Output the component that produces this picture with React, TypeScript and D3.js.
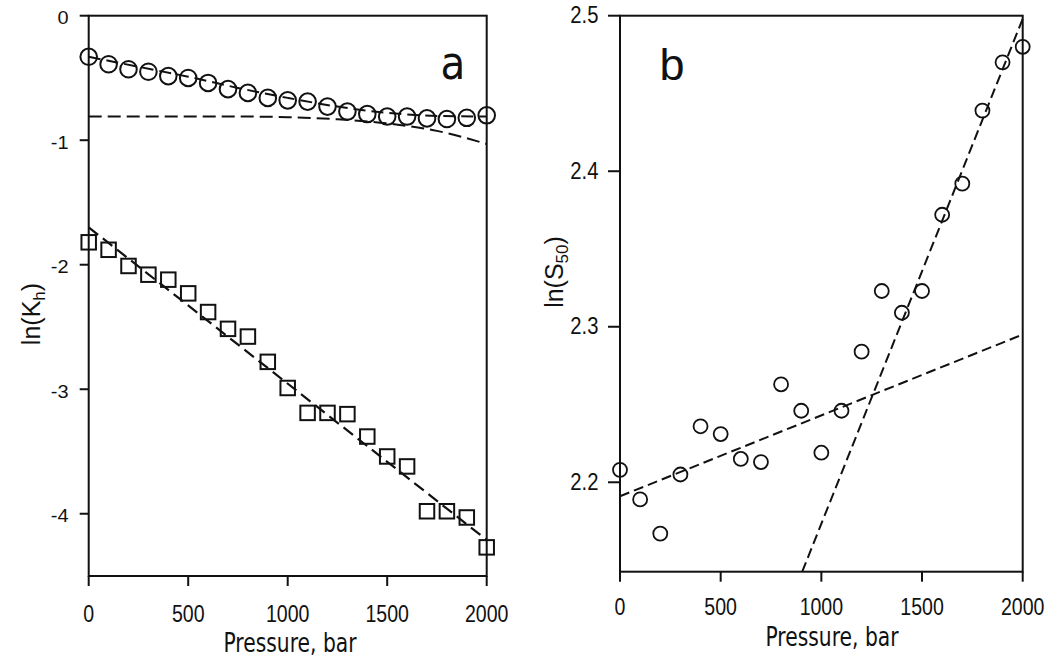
import React from "react";
import * as d3 from "d3";

const pressure = [0, 100, 200, 300, 400, 500, 600, 700, 800, 900, 1000, 1100, 1200, 1300, 1400, 1500, 1600, 1700, 1800, 1900, 2000];
const lnKhCircles = [-0.33, -0.39, -0.43, -0.45, -0.485, -0.5, -0.54, -0.59, -0.62, -0.66, -0.68, -0.69, -0.73, -0.77, -0.79, -0.81, -0.81, -0.825, -0.83, -0.82, -0.8];
const lnKhSquares = [-1.82, -1.88, -2.01, -2.08, -2.12, -2.23, -2.38, -2.515, -2.577, -2.78, -2.99, -3.19, -3.19, -3.2, -3.38, -3.54, -3.62, -3.98, -3.98, -4.03, -4.27];
const fitX = [0, 250, 500, 750, 1000, 1250, 1500, 1750, 2000];
const fitCircles = [-0.33, -0.41, -0.49, -0.58, -0.66, -0.73, -0.78, -0.805, -0.81];
const fitFlat = [-0.81, -0.81, -0.81, -0.81, -0.815, -0.832, -0.865, -0.925, -1.03];
const fitSquaresX = [0, 2000];
const fitSquares = [-1.7, -4.21];

const lnS50 = [2.208, 2.189, 2.167, 2.205, 2.236, 2.231, 2.215, 2.213, 2.263, 2.246, 2.219, 2.246, 2.284, 2.323, 2.309, 2.323, 2.372, 2.392, 2.439, 2.47, 2.48];
const lowLineX = [0, 2000];
const lowLine = [2.191, 2.295];
const highLineX = [905, 2000];
const highLine = [2.1425, 2.498];

const xTicks = [0, 500, 1000, 1500, 2000];
const yTicksA = [0, -1, -2, -3, -4];
const yTicksB = [2.2, 2.3, 2.4, 2.5];

const ARIAL = "'Liberation Sans', Arial, sans-serif";
const VERD = "'DejaVu Sans', Verdana, sans-serif";

function T({ x, y, sx = 1, size, family = ARIAL, anchor = "middle", children, rotate = 0 }: any) {
  return (
    <text
      transform={`translate(${x},${y}) rotate(${rotate}) scale(${sx},1)`}
      fontSize={size}
      fontFamily={family}
      textAnchor={anchor}
      fill="#111"
    >
      {children}
    </text>
  );
}

export default function App() {
  // Panel a
  const xa = d3.scaleLinear().domain([0, 2000]).range([88.7, 486.7]);
  const ya = d3.scaleLinear().domain([-4.5, 0]).range([576, 15.7]);
  // Panel b
  const xb = d3.scaleLinear().domain([0, 2000]).range([620, 1022.7]);
  const yb = d3.scaleLinear().domain([2.1425, 2.5]).range([571.7, 15.7]);

  const lineA = d3.line<number>().curve(d3.curveMonotoneX);
  const pathCirc = lineA(fitX.map((x, i) => [xa(x), ya(fitCircles[i])] as any));
  const pathFlat = lineA(fitX.map((x, i) => [xa(x), ya(fitFlat[i])] as any));
  const pathSq = d3.line()(fitSquaresX.map((x, i) => [xa(x), ya(fitSquares[i])]));
  const pathLow = d3.line()(lowLineX.map((x, i) => [xb(x), yb(lowLine[i])]));
  const pathHigh = d3.line()(highLineX.map((x, i) => [xb(x), yb(highLine[i])]));

  const sq = 14.5;
  return (
    <svg width={1050} height={662} style={{ position: "absolute", left: 0, top: 0, background: "#fff" }}>
      {/* Panel a frame */}
      <rect x={xa(0)} y={ya(0)} width={xa(2000) - xa(0)} height={ya(-4.5) - ya(0)} fill="none" stroke="#111" strokeWidth={2} />
      {xTicks.map((t) => (
        <g key={"xa" + t}>
          <line x1={xa(t)} x2={xa(t)} y1={ya(-4.5)} y2={ya(-4.5) + 10} stroke="#111" strokeWidth={2} />
          <T x={xa(t)} y={621.5} size={23} sx={0.85}>{t}</T>
        </g>
      ))}
      {yTicksA.map((t) => (
        <g key={"ya" + t}>
          <line x1={xa(0) - 9} x2={xa(0)} y1={ya(t)} y2={ya(t)} stroke="#111" strokeWidth={2} />
          <T x={68.5} y={ya(t) + 8.5} size={19} sx={1.05} anchor="end">{t}</T>
        </g>
      ))}
      <T x={290} y={652} size={26} sx={0.78} family={VERD}>Pressure, bar</T>
      <text transform="translate(40,314) rotate(-90)" fontSize={25} fontFamily={ARIAL} textAnchor="middle" fill="#111">
        ln(K<tspan fontSize={17} dy={5}>h</tspan><tspan dy={-5}>)</tspan>
      </text>
      <T x={453} y={79} size={46} sx={0.88} family={VERD}>a</T>

      <path d={pathCirc || ""} fill="none" stroke="#111" strokeWidth={2} strokeDasharray="12,6" />
      <path d={pathFlat || ""} fill="none" stroke="#111" strokeWidth={2} strokeDasharray="13,6" />
      <path d={pathSq || ""} fill="none" stroke="#111" strokeWidth={2.2} strokeDasharray="12,6" />
      {pressure.map((p, i) => (
        <circle key={"c" + p} cx={xa(p)} cy={ya(lnKhCircles[i])} r={8.3} fill="none" stroke="#111" strokeWidth={2} />
      ))}
      {pressure.map((p, i) => (
        <rect key={"s" + p} x={xa(p) - sq / 2} y={ya(lnKhSquares[i]) - sq / 2} width={sq} height={sq} fill="none" stroke="#111" strokeWidth={2} />
      ))}

      {/* Panel b */}
      <rect x={xb(0)} y={yb(2.5)} width={xb(2000) - xb(0)} height={yb(2.1425) - yb(2.5)} fill="none" stroke="#111" strokeWidth={2} />
      {xTicks.map((t) => (
        <g key={"xb" + t}>
          <line x1={xb(t)} x2={xb(t)} y1={yb(2.1425)} y2={yb(2.1425) + 10} stroke="#111" strokeWidth={2} />
          <T x={xb(t)} y={615} size={23} sx={0.85}>{t}</T>
        </g>
      ))}
      {yTicksB.map((t) => (
        <g key={"yb" + t}>
          <line x1={xb(0) - 12} x2={xb(0)} y1={yb(t)} y2={yb(t)} stroke="#111" strokeWidth={2} />
          <T x={598.5} y={yb(t) + 7.5} size={23} sx={0.88} anchor="end">{t.toFixed(1)}</T>
        </g>
      ))}
      <T x={832} y={646} size={26} sx={0.78} family={VERD}>Pressure, bar</T>
      <text transform="translate(563,272) rotate(-90)" fontSize={25} fontFamily={ARIAL} textAnchor="middle" fill="#111">
        ln(S<tspan fontSize={17} dy={5}>50</tspan><tspan dy={-5}>)</tspan>
      </text>
      <T x={672} y={80} size={45} family={ARIAL}>b</T>

      <path d={pathLow || ""} fill="none" stroke="#111" strokeWidth={2} strokeDasharray="10,5" />
      <path d={pathHigh || ""} fill="none" stroke="#111" strokeWidth={2} strokeDasharray="10,5" />
      {pressure.map((p, i) => (
        <circle key={"b" + p} cx={xb(p)} cy={yb(lnS50[i])} r={7} fill="none" stroke="#111" strokeWidth={1.8} />
      ))}
    </svg>
  );
}
